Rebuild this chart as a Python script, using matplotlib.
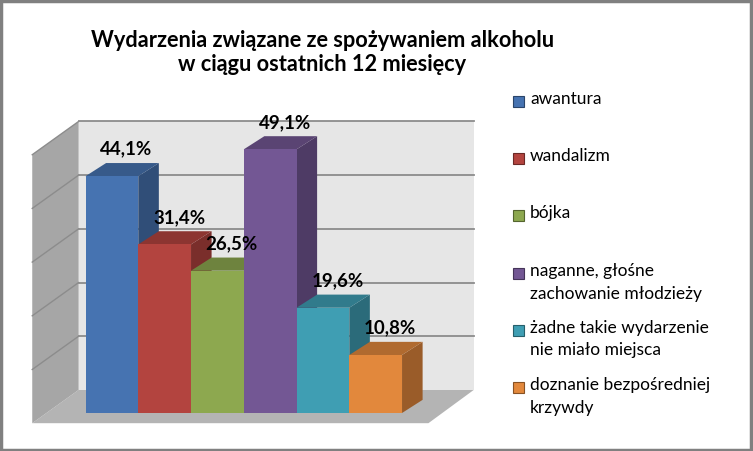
import matplotlib
matplotlib.use("Agg")
import matplotlib.pyplot as plt
from matplotlib.patches import Polygon, Rectangle
from matplotlib.colors import to_rgb

# data
categories = ["awantura", "wandalizm", "bójka",
              "naganne, głośne\nzachowanie młodzieży",
              "żadne takie wydarzenie\nnie miało miejsca",
              "doznanie bezpośredniej\nkrzywdy"]
values = [44.1, 31.4, 26.5, 49.1, 19.6, 10.8]
front_colors = ["#4673B1", "#B3443F", "#8DA84F", "#735794", "#3F9EB3", "#E2883C"]
grid_ticks = [0, 10, 20, 30, 40, 50]
title = "Wydarzenia związane ze spożywaniem alkoholu\nw ciągu ostatnich 12 miesięcy"

plt.rcParams['font.family'] = ['Lato', 'DejaVu Sans']


def shade(c, f):
    r, g, b = to_rgb(c)
    return (r * f, g * f, b * f)


fig = plt.figure(figsize=(7.53, 4.51), dpi=100)
ax = fig.add_axes([0.0295, 0.0426, 0.6095, 0.7084])
ax.set_xlim(-1.2, 7.5)
ax.set_ylim(-3.5, 56)
ax.axis("off")

# fake 3d box
bdx, bdy = 0.39, 2.45      # bar depth
wx0, wx1 = -0.13, 7.36     # back wall x
fx0, fx1 = -1.01, 6.5      # floor front x
fy, wy = -1.9, 4.3         # floor front / back y

ax.add_patch(Polygon([(fx0, fy), (fx1, fy), (wx1, wy), (wx0, wy)],
                     closed=True, fc="#B4B4B4", ec="none", zorder=1))
ax.add_patch(Rectangle((wx0, wy), wx1 - wx0, grid_ticks[-1],
                       fc="#E6E6E6", ec="none", zorder=1))
ax.add_patch(Polygon([(fx0, fy), (wx0, wy), (wx0, wy + grid_ticks[-1]),
                      (fx0, fy + grid_ticks[-1])],
                     closed=True, fc="#A6A6A6", ec="none", zorder=1))
for t in grid_ticks[1:]:
    ax.plot([wx0, wx1], [wy + t, wy + t], color="#8C8C8C", lw=1.3, zorder=2)
    ax.plot([fx0, wx0], [fy + t, wy + t], color="#8C8C8C", lw=1.0, zorder=2)

# bars, left to right so each covers the side of the previous one
for i, (v, c) in enumerate(zip(values, front_colors)):
    x0, x1 = i, i + 1
    side = Polygon([(x1, 0), (x1 + bdx, bdy), (x1 + bdx, v + bdy), (x1, v)],
                   closed=True, fc=shade(c, 0.68), ec="none", zorder=3 + i)
    top = Polygon([(x0, v), (x0 + bdx, v + bdy), (x1 + bdx, v + bdy), (x1, v)],
                  closed=True, fc=shade(c, 0.78), ec="none", zorder=3 + i)
    ax.add_patch(side)
    ax.add_patch(top)
    ax.bar(x0, v, width=1, align="edge", color=c, edgecolor="none", zorder=3 + i)

for i, v in enumerate(values):
    ax.annotate(f"{v:.1f}".replace(".", ",") + "%", xy=(i + 0.5 + bdx / 2, v + bdy),
                xytext=(3, 10), textcoords="offset points", ha="center", va="center",
                fontsize=13.5, fontweight="bold", color="black", zorder=20)

fig.text(0.428, 0.884, title, ha="center", va="center", fontsize=15.7,
         fontweight="bold", linespacing=1.2)

# legend
leg_y = [101, 158, 215, 273, 330, 387]
for lab, c, y in zip(categories, front_colors, leg_y):
    fig.patches.append(Rectangle((513 / 753, 1 - (y + 5.5) / 451), 10.5 / 753, 10.5 / 451,
                                 transform=fig.transFigure, fc=c, ec=shade(c, 0.6),
                                 lw=0.8, figure=fig))
    fig.text(530 / 753, 1 - (y - 10) / 451, lab, ha="left", va="top", fontsize=12.5,
             linespacing=1.5, color="black")

# border
fig.patches.append(Rectangle((0.001, 0.002), 0.996, 0.995, transform=fig.transFigure,
                             fc="none", ec="#808080", lw=2.5, figure=fig))

fig.savefig("out.png", dpi=100)
